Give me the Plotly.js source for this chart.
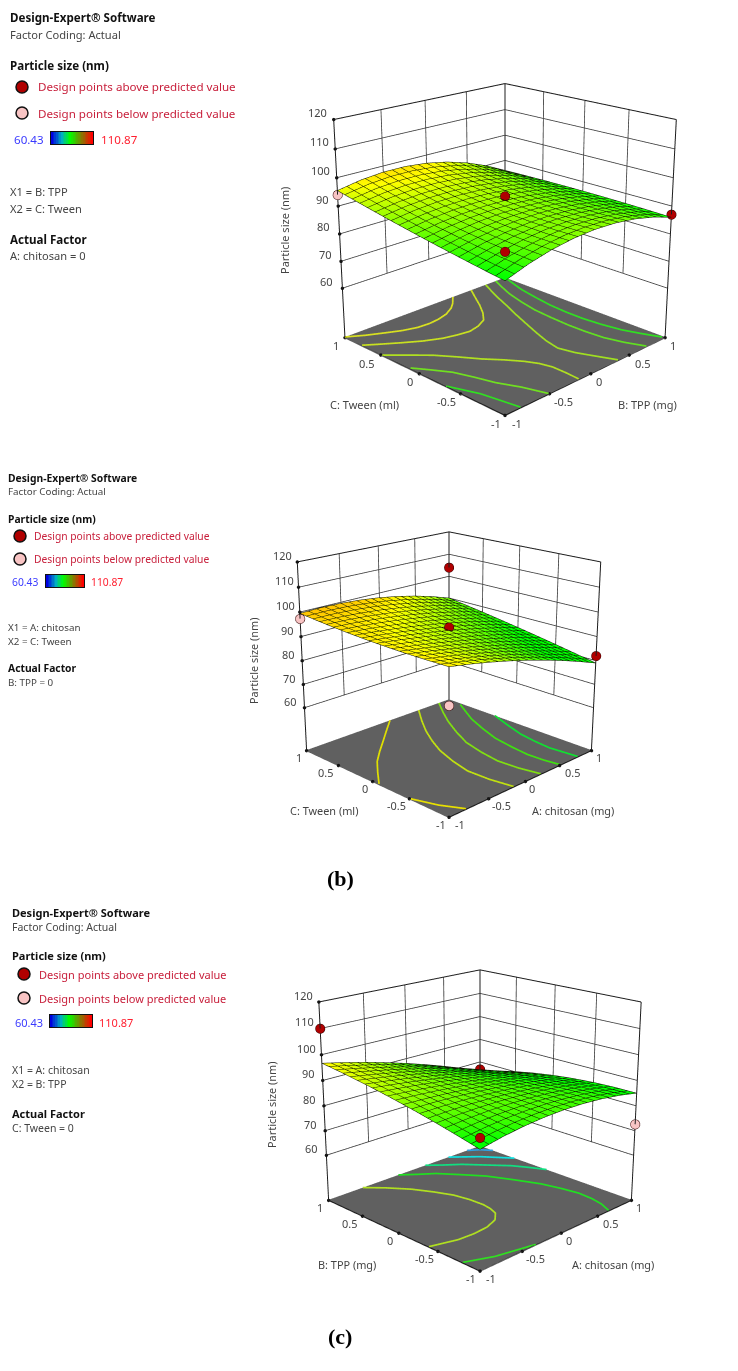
<!DOCTYPE html>
<html><head><meta charset="utf-8">
<script src="https://cdn.plot.ly/plotly-3.0.1.min.js"></script>
<style>html,body{margin:0;padding:0;background:#fff;width:738px;height:1371px;overflow:hidden}
#wrap{position:absolute;left:0;top:0;width:738px;height:1371px;overflow:hidden}
#g{position:absolute;left:0;top:-240px;width:738px;height:1800px}</style>
</head><body><div id="wrap"><div id="g"></div></div>
<script>
// ---------- data ----------
const gridVals = [-1,-0.75,-0.5,-0.25,0,0.25,0.5,0.75,1];
const floorTicks = [-1,-0.5,0,0.5,1];
const zTicks = [60,70,80,90,100,110,120];
const zFloor = 41.2;

const surfaceA = [
[85.5,88.08,89.94,91.08,91.5,91.2,90.18,88.45,86],
[86.53,88.6,90.07,90.94,91.2,90.85,89.91,88.36,86.22],
[87.63,89.3,90.45,91.09,91.19,90.77,89.83,88.36,86.38],
[88.78,90.17,91.08,91.5,91.45,90.93,89.92,88.44,86.47],
[90,91.2,91.94,92.2,92,91.33,90.19,88.58,86.5],
[91.28,92.4,93.04,93.19,92.83,91.99,90.64,88.81,86.47],
[92.62,93.78,94.39,94.44,93.94,92.9,91.27,89.12,86.38],
[94.03,95.33,95.98,95.98,95.33,94.03,92.08,89.48,86.22],
[95.5,97.05,97.81,97.8,97,95.42,93.06,89.92,86]];
const surfaceB = [
[97.5,95.95,94.19,92.2,90,87.57,84.94,82.07,79],
[97.31,95.83,94.18,92.35,90.34,88.17,85.81,83.29,80.59],
[97.25,95.88,94.36,92.7,90.88,88.91,86.8,84.54,82.13],
[97.31,96.1,94.74,93.23,91.59,89.8,87.87,85.8,83.59],
[97.5,96.48,95.31,93.98,92.5,90.86,89.06,87.11,85],
[97.81,97.04,96.08,94.93,93.59,92.06,90.34,88.43,86.34],
[98.25,97.78,97.05,96.08,94.88,93.43,91.74,89.81,87.63],
[98.81,98.66,98.2,97.43,96.34,94.93,93.22,91.18,88.84],
[99.5,99.73,99.56,98.98,98,96.61,94.81,92.61,90]];
const surfaceC = [
[85,86.53,87.63,88.28,88.5,88.28,87.62,86.53,85],
[86.97,87.94,88.57,88.85,88.77,88.34,87.57,86.44,84.97],
[88.79,89.24,89.42,89.32,88.94,88.28,87.34,86.12,84.63],
[90.47,90.45,90.2,89.72,89.02,88.1,86.94,85.57,83.97],
[92,91.53,90.88,90.03,89,87.78,86.38,84.78,83],
[93.39,92.51,91.47,90.27,88.89,87.35,85.64,83.77,81.72],
[94.62,93.38,91.99,90.42,88.69,86.81,84.74,82.53,80.13],
[95.74,94.16,92.41,90.5,88.39,86.12,83.66,81.03,78.22],
[96.7,94.83,92.76,90.48,88,85.31,82.41,79.31,76]];

const aboveXA=[0,-1,1], aboveYA=[0,-1,-1], aboveZA=[93.5,94.6,87];
const belowXA=[-1], belowYA=[1], belowZA=[94];
const aboveXB=[1,0,1], aboveYB=[1,0,-1], aboveZB=[104,93.8,82];
const belowXB=[-1,-1], belowYB=[1,-1], belowZB=[97.3,83.5];
const aboveXC=[-1,1,-1], aboveYC=[1,1,-1], aboveZC=[110,76.7,89];
const belowXC=[1], belowYC=[-1], belowZC=[72.6];

const contourXA=[
[-1,-0.85,-0.68,-0.55,-0.41,-0.28,-0.156,-0.03,0.097,0.18,0.293],
[-1,-0.87,-0.725,-0.57,-0.409,-0.27,-0.137,-0.01,0.122,0.23,0.337,0.43,0.534],
[-1,-0.84,-0.693,-0.57,-0.451,-0.33,-0.232,-0.17,-0.14,-0.14,-0.15],
[-0.99,-0.89,-0.795,-0.73,-0.676,-0.585,-0.51],
[-1,-0.896,-0.83],
[0.73,0.66,0.594,0.51,0.421,0.34,0.264,0.2,0.161,0.2,0.263,0.35],
[0.87,0.8,0.733,0.67,0.622,0.6,0.587,0.59,0.606,0.66,0.735],
[1,0.945,0.892,0.845,0.807,0.79,0.79,0.81,0.847,0.91,0.98]];
const contourYA=[
[1,0.9,0.81,0.745,0.70,0.69,0.704,0.74,0.811,0.88,1],
[0.758,0.66,0.555,0.45,0.369,0.33,0.307,0.335,0.398,0.52,0.675,0.83,1],
[0.48,0.32,0.169,0,-0.175,-0.32,-0.458,-0.58,-0.70,-0.85,-1],
[0.122,-0.03,-0.185,-0.38,-0.568,-0.769,-1],
[-0.33,-0.62,-1],
[1,0.85,0.702,0.49,0.279,0.07,-0.128,-0.31,-0.483,-0.65,-0.799,-1],
[1,0.84,0.675,0.45,0.23,0,-0.223,-0.43,-0.622,-0.82,-1],
[1,0.83,0.666,0.43,0.205,-0.02,-0.23,-0.43,-0.633,-0.81,-0.98]];
const contourXB=[
[0.11,-0.11,-0.324,-0.51,-0.685,-0.85,-1],
[-1,-0.91,-0.79],
[0.53,0.34,0.173,0.04,-0.071,-0.16,-0.221,-0.21,-0.165],
[0.84,0.67,0.523,0.38,0.258,0.19,0.149,0.17,0.22],
[0.973,0.86,0.752,0.64,0.546,0.5,0.469,0.48,0.51],
[1,0.9,0.811,0.77,0.748,0.78]];
const contourYB=[
[1,0.81,0.622,0.46,0.297,0.1,-0.09],
[-0.52,-0.784,-1],
[1,0.75,0.509,0.28,0.055,-0.21,-0.469,-0.74,-1],
[1,0.76,0.533,0.27,0.01,-0.26,-0.519,-0.77,-1],
[0.795,0.6,0.41,0.14,-0.122,-0.38,-0.621,-0.82,-1],
[0.3,0.03,-0.233,-0.46,-0.67,-1]];
const contourXC=[
[0.81,0.92,1],
[0.54,0.779,1],
[0.22,0.35,0.496,0.66,0.824,0.92,1],
[-0.14,0,0.147,0.3,0.453,0.58,0.688,0.74,0.772,0.76,0.727,0.66],
[-0.59,-0.44,-0.286,-0.18,-0.099,-0.065,-0.057,-0.075,-0.114,-0.22,-0.377,-0.55,-0.732,-1],
[-1,-0.736,-0.33]];
const contourYC=[
[1,0.92,0.81],
[1,0.779,0.5],
[1,0.88,0.76,0.57,0.382,0.22,0.06],
[1,0.88,0.765,0.57,0.365,0.1,-0.15,-0.36,-0.552,-0.72,-0.861,-1],
[1,0.84,0.64,0.44,0.253,0.07,-0.101,-0.21,-0.312,-0.41,-0.465,-0.48,-0.468,-0.39],
[-0.8,-0.912,-1]];
const contourColorA=['#d8e020','#c8e020','#b0e020','#70e020','#30e020','#a0e020','#60e020','#30e020'];
const contourColorB=['#e0e000','#e8e000','#c0e010','#80e010','#40e010','#10e030'];
const contourColorC=['#30a0e0','#10e0e0','#10e080','#20e020','#b0e020','#30e020'];

const legendRamp=[[60.43,62.5,64.6,66.7,68.8,70.9,73,75.1,77.2,79.3,81.4,83.5,85.6,87.7,89.8,91.9,94,96.1,98.2,100.3,102.4,104.5,106.6,108.7,110.87]];
const surfaceScale=[[0,'#0000ff'],[0.25,'#00ffff'],[0.38,'#00ff00'],[0.5,'#00ff00'],[0.71,'#ffff00'],[1,'#ff0000']];
const legendScale=[[0,'#0000e0'],[0.25,'#00b0c0'],[0.45,'#00ff00'],[0.72,'#808000'],[1,'#ff0000']];

const panelTitles=[
 {xt:'C: Tween (ml)',yt:'B: TPP (mg)',x1:'X1 = B: TPP',x2:'X2 = C: Tween',af:'A: chitosan = 0'},
 {xt:'C: Tween (ml)',yt:'A: chitosan (mg)',x1:'X1 = A: chitosan',x2:'X2 = C: Tween',af:'B: TPP = 0'},
 {xt:'B: TPP (mg)',yt:'A: chitosan (mg)',x1:'X1 = A: chitosan',x2:'X2 = B: TPP',af:'C: Tween = 0'}];

// ---------- layout geometry ----------
const W=738,GH=1800,OFF=240,FONT='"Noto Sans", "Open Sans", sans-serif';
const px=x=>x/W, py=y=>1-(y+OFF)/GH;
const panels=[
 {cx:505,cy:232,h:940,s:1,ez:1.6,az_:0.98,z:surfaceA,cxs:contourXA,cys:contourYA,cc:contourColorA,
  ax:aboveXA,ay:aboveYA,az:aboveZA,bx:belowXA,by:belowYA,bz:belowZA,
  tl:{x:364,y:404},tr:{x:647,y:404},tz:{x:284,y:231},
  txt:{x:8,head:18,fc:34,ps:65,m1:87,m2:113,mx:22,lx:36,rg:139,r1:12,bar:[51,93,132,144],r2:99,x1:191,x2:208,af:239,afv:255,fs:11.6}},
 {cx:449,cy:659,h:830,s:0.893,ez:1.52,az_:0.95,z:surfaceB,cxs:contourXB,cys:contourYB,cc:contourColorB,
  ax:aboveXB,ay:aboveYB,az:aboveZB,bx:belowXB,by:belowYB,bz:belowZB,
  tl:{x:324,y:810},tr:{x:573,y:810},tz:{x:253,y:660},
  txt:{x:6,head:478,fc:491,ps:519,m1:536,m2:559,mx:20,lx:32,rg:582,r1:10,bar:[46,84,575,587],r2:89,x1:627,x2:641,af:668,afv:682,fs:10.3}},
 {cx:480,cy:1104,h:882,s:0.95,ez:1.52,az_:0.94,z:surfaceC,cxs:contourXC,cys:contourYC,cc:contourColorC,
  ax:aboveXC,ay:aboveYC,az:aboveZC,bx:belowXC,by:belowYC,bz:belowZC,
  tl:{x:347,y:1264},tr:{x:613,y:1264},tz:{x:271,y:1105},
  txt:{x:10,head:912,fc:927,ps:955,m1:974,m2:998,mx:24,lx:37,rg:1022,r1:13,bar:[50,92,1015,1027],r2:97,x1:1070,x2:1084,af:1113,afv:1128,fs:11}}];

const eyeXY=-3.2;
const traces=[], layout={width:W,height:GH,margin:{l:0,r:0,t:0,b:0},paper_bgcolor:'#fff',plot_bgcolor:'#fff',
  showlegend:false,autosize:false,annotations:[],shapes:[]};

function note(x,y,text,opts){
  layout.annotations.push(Object.assign({xref:'paper',yref:'paper',x:px(x),y:py(y),text,showarrow:false,
    xanchor:'left',yanchor:'middle',font:{family:FONT,size:11,color:'#444'}},opts||{}));
}

panels.forEach((p,i)=>{
  const sc=i===0?'scene':'scene'+(i+1);
  const hw=Math.min(W-p.cx,p.cx);
  layout[sc]={
    domain:{x:[px(p.cx-hw),px(p.cx+hw)],y:[py(p.cy+p.h/2),py(p.cy-p.h/2)]},
    bgcolor:'rgba(0,0,0,0)',
    aspectmode:'manual',aspectratio:{x:1,y:1,z:p.az_},
    camera:{eye:{x:eyeXY,y:eyeXY,z:p.ez},center:{x:0,y:0,z:0},up:{x:0,y:0,z:1},projection:{type:'perspective'}},
    dragmode:false,
    annotations:[]
  };
  const ax={showgrid:false,zeroline:false,showline:false,showticklabels:false,ticks:'',showspikes:false,title:{text:''},showbackground:false};
  layout[sc].xaxis=Object.assign({},ax,{range:[-1.01,1.01]});
  layout[sc].yaxis=Object.assign({},ax,{range:[-1.01,1.01]});
  layout[sc].zaxis=Object.assign({},ax,{range:[zFloor,120.2],showbackground:true,backgroundcolor:'#606060'});

  const wx=[],wy=[],wz=[];
  const seg=(a,b)=>{wx.push(a[0],b[0],null);wy.push(a[1],b[1],null);wz.push(a[2],b[2],null);};
  zTicks.forEach(z=>{ if(z!==120){ seg([-1,1,z],[1,1,z]); seg([1,1,z],[1,-1,z]); }});
  floorTicks.forEach(t=>{ if(t!==-1&&t!==1){ seg([t,1,60],[t,1,120]); seg([1,t,60],[1,t,120]); }});
  traces.push({type:'scatter3d',scene:sc,mode:'lines',x:wx,y:wy,z:wz,line:{color:'#3c3c3c',width:1.6},hoverinfo:'skip',showlegend:false});
  const fx=[],fy=[],fz=[];
  const fseg=(a,b)=>{fx.push(a[0],b[0],null);fy.push(a[1],b[1],null);fz.push(a[2],b[2],null);};
  fseg([-1,1,120],[1,1,120]); fseg([1,1,120],[1,-1,120]);
  fseg([-1,1,zFloor],[-1,1,120]); fseg([1,1,zFloor],[1,1,120]); fseg([1,-1,zFloor],[1,-1,120]);
  fseg([-1,-1,zFloor],[-1,1,zFloor]); fseg([-1,-1,zFloor],[1,-1,zFloor]);
  traces.push({type:'scatter3d',scene:sc,mode:'lines',x:fx,y:fy,z:fz,line:{color:'#1c1c1c',width:2},hoverinfo:'skip',showlegend:false});
  traces.push({type:'scatter3d',scene:sc,mode:'markers',
    x:zTicks.map(()=>-1).concat(floorTicks,floorTicks.map(()=>-1)),
    y:zTicks.map(()=>1).concat(floorTicks.map(()=>-1),floorTicks),
    z:zTicks.concat(floorTicks.map(()=>zFloor),floorTicks.map(()=>zFloor)),
    marker:{size:2,color:'#111',line:{width:0}},hoverinfo:'skip',showlegend:false});
  p.cxs.forEach((cx,k)=>{
    traces.push({type:'scatter3d',scene:sc,mode:'lines',x:cx,y:p.cys[k],z:cx.map(()=>zFloor+0.25),
      line:{color:p.cc[k],width:3.4},hoverinfo:'skip',showlegend:false});
  });
  traces.push({type:'surface',scene:sc,x:gridVals,y:gridVals,z:p.z,cmin:60.43,cmax:110.87,colorscale:surfaceScale,showscale:false,
    hoverinfo:'skip',lighting:{ambient:0.92,diffuse:0.12,specular:0,roughness:1,fresnel:0},
    contours:{x:{show:true,start:-1,end:1,size:0.1,color:'#0c1400',width:1.5},
              y:{show:true,start:-1,end:1,size:0.1,color:'#0c1400',width:1.5},
              z:{show:false}}});
  traces.push({type:'scatter3d',scene:sc,mode:'markers',x:p.ax,y:p.ay,z:p.az,
    marker:{size:5.5,color:'#b00000',line:{color:'#300000',width:1}},hoverinfo:'skip',showlegend:false});
  traces.push({type:'scatter3d',scene:sc,mode:'markers',x:p.bx,y:p.by,z:p.bz,
    marker:{size:5.5,color:'#f8c4c4',line:{color:'#300000',width:1}},hoverinfo:'skip',showlegend:false});

  const fs=Math.round(11*(0.9+0.1*p.s)*10)/10, tf={family:FONT,size:fs,color:'#444'};
  const an=(x,y,z,text,xs,ys)=>layout[sc].annotations.push({x,y,z,text:String(text),showarrow:false,xshift:xs,yshift:ys,font:tf});
  zTicks.forEach(z=>an(-1,1,z,z,-16*p.s,7*p.s));
  floorTicks.forEach(t=>{
    const l=String(t), big=l.length>1&&t!==-1;
    an(-1,t,zFloor,l,(big?-14:-9)*p.s,-8*p.s);
    an(t,-1,zFloor,l,(t===-1?12:big?14:8)*p.s,-8*p.s);
  });
  note(p.tl.x,p.tl.y,panelTitles[i].xt,{xanchor:'center',font:{family:FONT,size:fs,color:'#444'}});
  note(p.tr.x,p.tr.y,panelTitles[i].yt,{xanchor:'center',font:{family:FONT,size:fs,color:'#444'}});
  note(p.tz.x,p.tz.y,'Particle size (nm)',{xanchor:'center',textangle:-90,font:{family:FONT,size:fs,color:'#444'}});

  const t=p.txt, bf={family:FONT,size:t.fs,color:'#111'}, nf={family:FONT,size:t.fs-0.5,color:'#444'}, rf={family:FONT,size:t.fs,color:'#c8203c'};
  note(t.x,t.head,'<b>Design-Expert® Software</b>',{font:bf});
  note(t.x,t.fc,'Factor Coding: Actual',{font:nf});
  note(t.x,t.ps,'<b>Particle size (nm)</b>',{font:bf});
  note(t.lx,t.m1,'Design points above predicted value',{font:rf});
  note(t.lx,t.m2,'Design points below predicted value',{font:rf});
  note(t.r1,t.rg,'60.43',{font:{family:FONT,size:t.fs,color:'#3a3aff'}});
  note(t.r2,t.rg,'110.87',{font:{family:FONT,size:t.fs,color:'#ff2030'}});
  note(t.x,t.x1,panelTitles[i].x1,{font:nf});
  note(t.x,t.x2,panelTitles[i].x2,{font:nf});
  note(t.x,t.af,'<b>Actual Factor</b>',{font:bf});
  note(t.x,t.afv,panelTitles[i].af,{font:nf});
  [[t.m1,'#b00000'],[t.m2,'#f8c4c4']].forEach(m=>{
    layout.shapes.push({type:'circle',xref:'paper',yref:'paper',x0:px(t.mx-6),x1:px(t.mx+6),y0:py(m[0]+6),y1:py(m[0]-6),
      fillcolor:m[1],line:{color:'#111',width:1.5}});
  });
  const xa=i===0?'xaxis':'xaxis'+(i+1), ya=i===0?'yaxis':'yaxis'+(i+1);
  const barAxis={showgrid:false,zeroline:false,showticklabels:false,ticks:'',showline:true,mirror:true,linecolor:'#111',linewidth:1,fixedrange:true};
  layout[xa]=Object.assign({},barAxis,{domain:[px(t.bar[0]),px(t.bar[1])],anchor:i===0?'y':'y'+(i+1)});
  layout[ya]=Object.assign({},barAxis,{domain:[py(t.bar[3]),py(t.bar[2])],anchor:i===0?'x':'x'+(i+1)});
  traces.push({type:'heatmap',xaxis:i===0?'x':'x'+(i+1),yaxis:i===0?'y':'y'+(i+1),z:legendRamp,colorscale:legendScale,zmin:60.43,zmax:110.87,showscale:false,hoverinfo:'skip'});
});
const capFont={family:'"Liberation Serif", serif',size:22,color:'#000'};
note(340,878,'<b>(b)</b>',{xanchor:'center',font:capFont});
note(340,1336,'<b>(c)</b>',{xanchor:'center',font:capFont});

Plotly.newPlot('g',traces,layout,{displayModeBar:false,responsive:false});
</script></body></html>
